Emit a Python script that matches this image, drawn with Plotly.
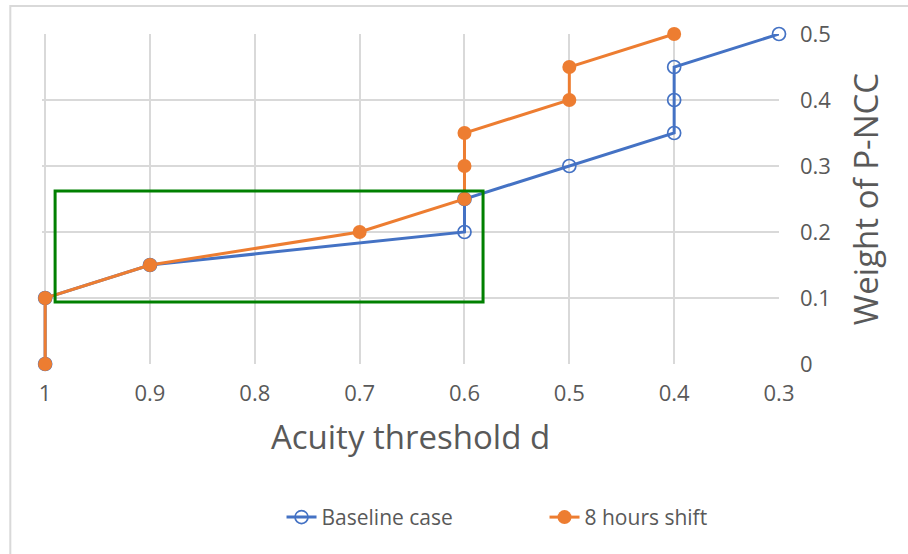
import plotly.graph_objects as go

# Data
baseline_x = [1, 1, 0.9, 0.6, 0.6, 0.5, 0.4, 0.4, 0.4, 0.3]
baseline_y = [0, 0.1, 0.15, 0.2, 0.25, 0.3, 0.35, 0.4, 0.45, 0.5]
shift_x = [1, 1, 0.9, 0.7, 0.6, 0.6, 0.6, 0.5, 0.5, 0.4]
shift_y = [0, 0.1, 0.15, 0.2, 0.25, 0.3, 0.35, 0.4, 0.45, 0.5]
x_ticks = [1, 0.9, 0.8, 0.7, 0.6, 0.5, 0.4, 0.3]
x_tick_labels = ["1", "0.9", "0.8", "0.7", "0.6", "0.5", "0.4", "0.3"]
y_ticks = [0, 0.1, 0.2, 0.3, 0.4, 0.5]
y_tick_labels = ["0", "0.1", "0.2", "0.3", "0.4", "0.5"]
box_x = [0.9905, 0.5823]
box_y = [0.094, 0.262]

BLUE = "#4472C4"
ORANGE = "#ED7D31"
TXT = "#595959"
GRID = "#D9D9D9"
FONT = "Open Sans"

fig = go.Figure()
fig.add_trace(go.Scatter(
    x=baseline_x, y=baseline_y, name="Baseline case", mode="lines+markers",
    line=dict(color=BLUE, width=3), cliponaxis=False,
    marker=dict(symbol="circle-open", size=13, color=BLUE, line=dict(width=1.7, color=BLUE)),
))
fig.add_trace(go.Scatter(
    x=shift_x, y=shift_y, name="8 hours shift", mode="lines+markers",
    line=dict(color=ORANGE, width=3), cliponaxis=False,
    marker=dict(symbol="circle", size=14, color=ORANGE),
))

# green highlight rectangle
fig.add_shape(type="rect", xref="x", yref="y",
              x0=box_x[0], x1=box_x[1], y0=box_y[0], y1=box_y[1],
              line=dict(color="#008000", width=3), fillcolor="rgba(0,0,0,0)", layer="above")
# outer chart border
fig.add_shape(type="rect", xref="paper", yref="paper",
              x0=-0.043, x1=1.3, y0=-1.0, y1=1.085,
              line=dict(color=GRID, width=2), fillcolor="rgba(0,0,0,0)", layer="below")

fig.update_layout(
    width=908, height=554,
    margin=dict(l=42, r=129, t=34, b=190),
    paper_bgcolor="white", plot_bgcolor="white",
    font=dict(family=FONT, color=TXT, size=21),
    showlegend=True,
    legend=dict(orientation="h", x=0.325, xanchor="left", y=-0.465, yanchor="middle",
                font=dict(size=21, color=TXT), entrywidth=218, entrywidthmode="pixels",
                tracegroupgap=0),
    xaxis=dict(
        range=[1.003, 0.3], tickvals=x_ticks, ticktext=x_tick_labels,
        showgrid=True, gridcolor=GRID, gridwidth=1.5,
        zeroline=False, showline=False, ticks="", ticklabelstandoff=14,
        tickfont=dict(size=22, color=TXT),
        title=dict(text="Acuity threshold d", font=dict(size=33, color=TXT), standoff=19),
    ),
    yaxis=dict(
        range=[0, 0.5], tickvals=y_ticks, ticktext=y_tick_labels, side="right",
        showgrid=True, gridcolor=GRID, gridwidth=1.5,
        zeroline=False, showline=False, ticks="", ticklabelstandoff=20,
        tickfont=dict(size=22, color=TXT),
        title=dict(text="Weight of P-NCC", font=dict(size=33, color=TXT), standoff=24),
    ),
)
fig.write_html("out.html")
